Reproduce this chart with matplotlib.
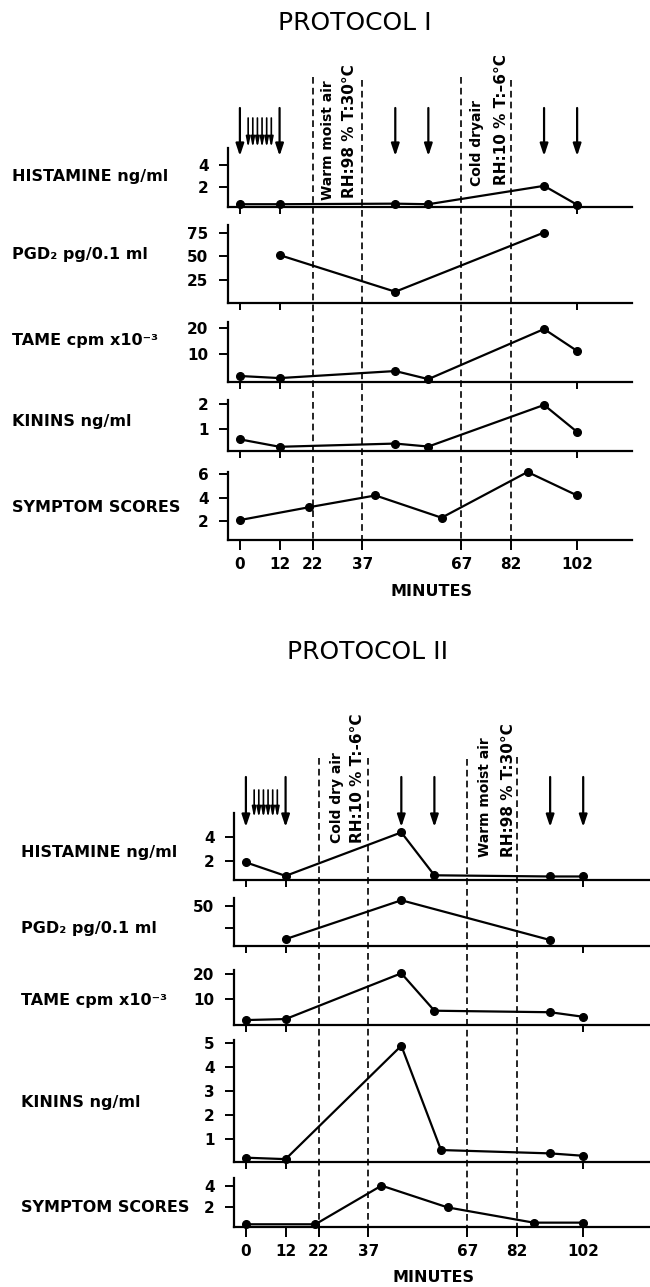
import matplotlib
matplotlib.use("Agg")
import matplotlib.pyplot as plt

plt.rcParams["font.family"] = "DejaVu Sans"
plt.rcParams["font.weight"] = "bold"

# sampling times (minutes)
lab_times = [0, 12, 47, 57, 92, 102]
pgd_times = [12, 47, 92]
sym_times = [0, 21, 41, 61, 87, 102]
kinin_times_2 = [0, 12, 47, 59, 92, 102]

# protocol I values
p1_histamine = [0.45, 0.45, 0.5, 0.45, 2.1, 0.4]
p1_pgd2 = [51, 12, 75]
p1_tame = [1.7, 0.9, 3.6, 0.5, 19.7, 11.3]
p1_kinins = [0.57, 0.27, 0.4, 0.28, 1.96, 0.87]
p1_symptoms = [2.1, 3.2, 4.2, 2.3, 6.2, 4.2]

# protocol II values
p2_histamine = [1.85, 0.7, 4.4, 0.75, 0.65, 0.65]
p2_pgd2 = [13, 56, 12]
p2_tame = [1.8, 2.2, 20.3, 5.5, 4.9, 3.1]
p2_kinins = [0.22, 0.16, 4.9, 0.54, 0.4, 0.3]
p2_symptoms = [0.45, 0.45, 4.0, 2.0, 0.6, 0.6]

x_ticks = [0, 12, 22, 37, 67, 82, 102]
exposure_marks = [22, 37, 67, 82]
big_arrows = [0, 12, 47, 57, 92, 102]
small_arrows = [2.5, 3.9, 5.3, 6.7, 8.1, 9.5]

labels = ["HISTAMINE ng/ml", "PGD\u2082 pg/0.1 ml", "TAME cpm x10\u207b\u00b3",
          "KININS ng/ml", "SYMPTOM SCORES"]

W, H = 650, 1287
fig = plt.figure(figsize=(W / 100, H / 100), dpi=100)


def box(x0, x1, y0, y1):
    return [x0 / W, 1 - y1 / H, (x1 - x0) / W, (y1 - y0) / H]


protocols = [
    dict(title="PROTOCOL I", title_xy=(355, 23),
         x_px=(228, 632), xlim=(-3.6, 118.6),
         panels_px=[(148, 207), (225, 303), (322, 382), (400, 451), (472, 540)],
         label_x=12, label_y=[177, 254, 340, 422, 507],
         series=[(lab_times, p1_histamine, (0.2, 5.5), [2, 4], ["2", "4"]),
                 (pgd_times, p1_pgd2, (0, 83), [25, 50, 75], ["25", "50", "75"]),
                 (lab_times, p1_tame, (-0.6, 22.4), [10, 20], ["10", "20"]),
                 (lab_times, p1_kinins, (0.1, 2.16), [1, 2], ["1", "2"]),
                 (sym_times, p1_symptoms, (0.4, 6.2), [2, 4, 6], ["2", "4", "6"])],
         region=(40, 600), dash_top=[77, 80, 77, 80], dash_bottom=546,
         big_arrow=(108, 156), small_arrow=(118, 148),
         notes=["Warm moist air", "RH:98 % T:30\u00b0C", "Cold dryair", "RH:10 % T:\u20136\u00b0C"],
         notes_x=[26.5, 33.3, 71.7, 79.2], notes_bottom=[200, 198, 186, 185],
         minutes_xy=(431, 592)),
    dict(title="PROTOCOL II", title_xy=(368, 652),
         x_px=(234, 650), xlim=(-3.6, 122.2),
         panels_px=[(813, 880), (898, 946), (970, 1025), (1040, 1162), (1178, 1227)],
         label_x=21, label_y=[852, 928, 1000, 1102, 1207],
         series=[(lab_times, p2_histamine, (0.35, 6.05), [2, 4], ["2", "4"]),
                 (pgd_times, p2_pgd2, (5.4, 58.5), [25, 50], ["", "50"]),
                 (lab_times, p2_tame, (-0.15, 21.6), [10, 20], ["10", "20"]),
                 (kinin_times_2, p2_kinins, (0.04, 5.14), [1, 2, 3, 4, 5],
                  ["1", "2", "3", "4", "5"]),
                 (sym_times, p2_symptoms, (0.2, 4.7), [2, 4], ["2", "4"])],
         region=(690, 1280), dash_top=[758, 758, 759, 757], dash_bottom=1236,
         big_arrow=(777, 827), small_arrow=(790, 818),
         notes=["Cold dry air", "RH:10 % T:-6\u00b0C", "Warm moist air", "RH:98 % T:30\u00b0C"],
         notes_x=[27.4, 33.7, 72.3, 79.3], notes_bottom=[843, 843, 857, 857],
         minutes_xy=(433, 1278)),
]

for p in protocols:
    x0, x1 = p["x_px"]
    fig.text(p["title_xy"][0] / W, 1 - p["title_xy"][1] / H, p["title"],
             ha="center", va="center", fontsize=18, fontweight="normal")

    n = len(p["series"])
    for i, ((t, v, ylim, yt, ytl), (y0, y1)) in enumerate(zip(p["series"], p["panels_px"])):
        ax = fig.add_axes(box(x0, x1, y0, y1))
        ax.plot(t, v, "-o", color="k", lw=1.6, ms=5.5, clip_on=False)
        ax.set_xlim(*p["xlim"])
        ax.set_ylim(*ylim)
        ax.set_yticks(yt)
        ax.set_yticklabels(ytl)
        ax.spines[["top", "right"]].set_visible(False)
        ax.spines[["left", "bottom"]].set_linewidth(1.6)
        ax.patch.set_alpha(0)
        ax.tick_params(axis="y", direction="out", length=6.5, width=1.4,
                       pad=7.5, labelsize=11)
        if i == n - 1:
            ax.set_xticks(x_ticks)
            ax.tick_params(axis="x", direction="out", length=7, width=1.4,
                           pad=5.5, labelsize=11)
        else:
            ax.set_xticks([0, 12, 102])
            ax.tick_params(axis="x", direction="out", length=5, width=1.4,
                           labelbottom=False)
        fig.text(p["label_x"] / W, 1 - p["label_y"][i] / H, labels[i],
                 ha="left", va="center", fontsize=11.5)

    fig.text(p["minutes_xy"][0] / W, 1 - p["minutes_xy"][1] / H, "MINUTES",
             ha="center", va="center", fontsize=11.5)

    # overlay for exposure marks, sampling arrows and notes (y in pixels)
    r0, r1 = p["region"]
    ov = fig.add_axes(box(x0, x1, r0, r1))
    ov.set_xlim(*p["xlim"])
    ov.set_ylim(r1, r0)
    ov.axis("off")
    ov.patch.set_alpha(0)
    for t, top in zip(exposure_marks, p["dash_top"]):
        ov.plot([t, t], [top, p["dash_bottom"]], color="k", lw=1.2,
                linestyle=(0, (4, 2.5)))
    arrow_sets = [(big_arrows, p["big_arrow"], 1.6, "-|>,head_length=0.6,head_width=0.2"),
                  (small_arrows, p["small_arrow"], 1.2, "-|>,head_length=0.5,head_width=0.1")]
    for arrows, (top, tip), lw, style in arrow_sets:
        for t in arrows:
            ov.annotate("", xy=(t, tip), xytext=(t, top),
                        arrowprops=dict(arrowstyle=style, lw=lw, color="k",
                                        shrinkA=0, shrinkB=0, mutation_scale=12))
    for j, (s, tx, yb) in enumerate(zip(p["notes"], p["notes_x"], p["notes_bottom"])):
        ov.text(tx, yb, s, rotation=90, ha="center", va="bottom",
                fontsize=10 if j % 2 == 0 else 11)

fig.savefig("out.png", dpi=100)
